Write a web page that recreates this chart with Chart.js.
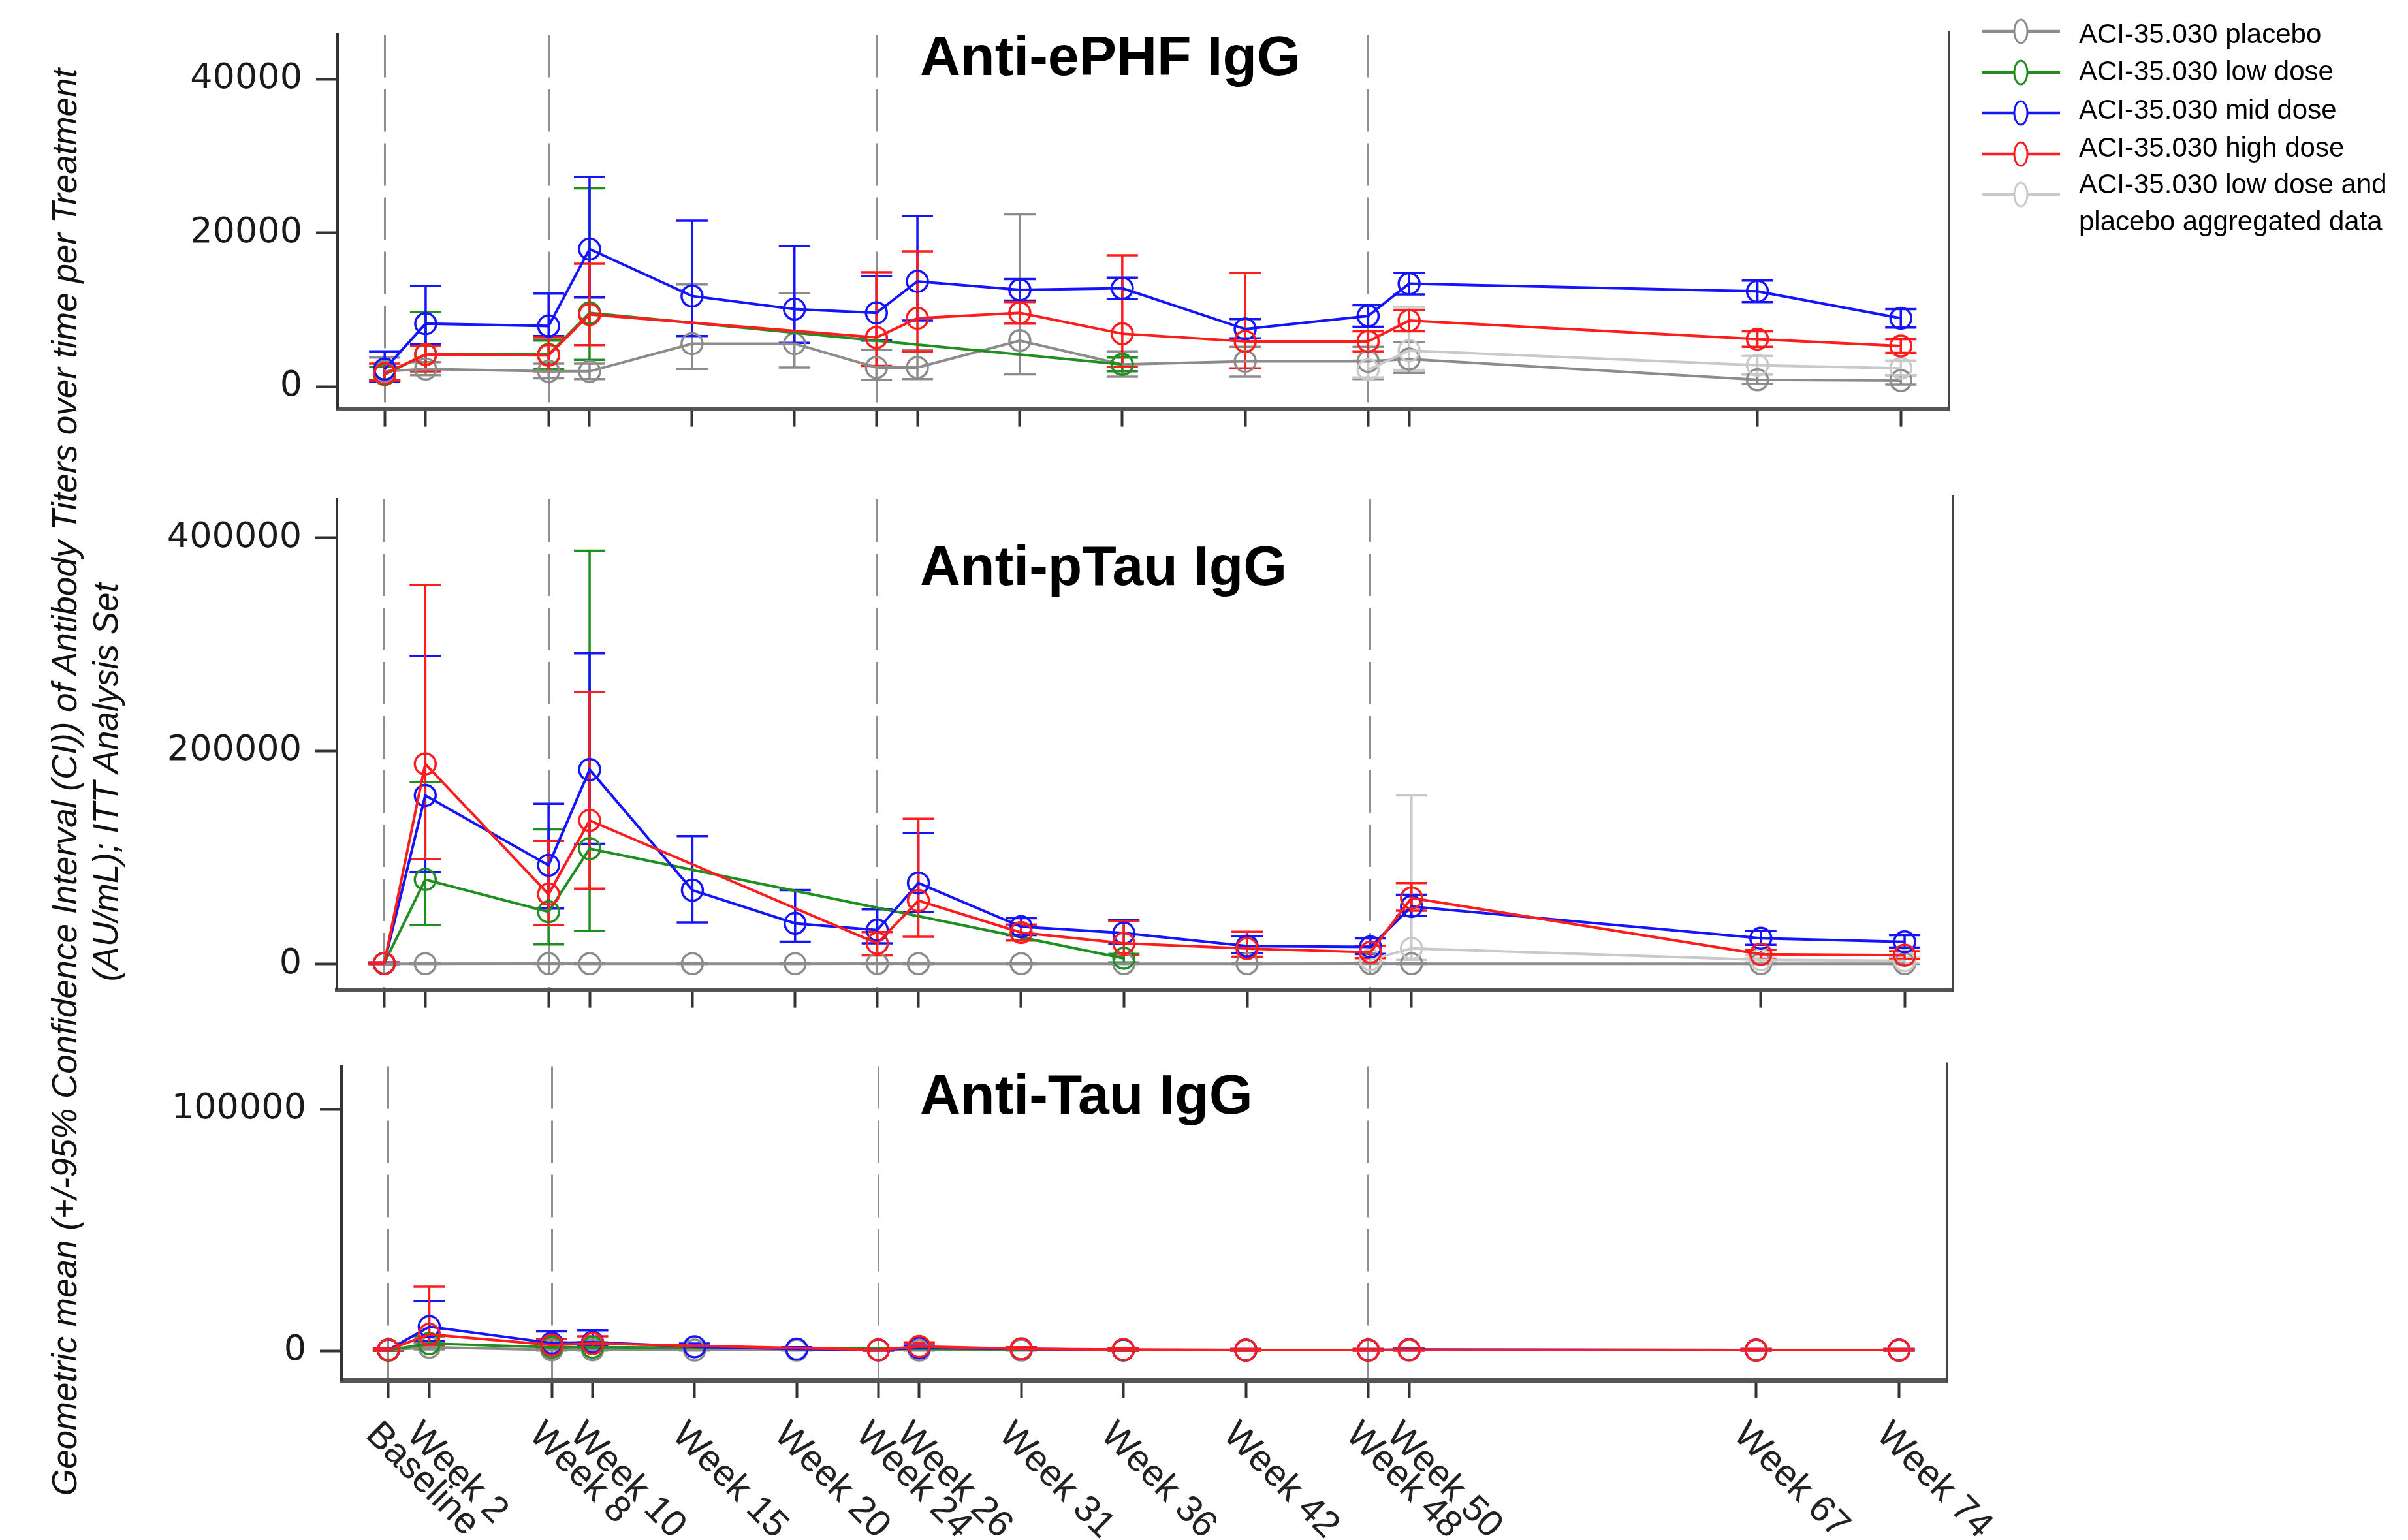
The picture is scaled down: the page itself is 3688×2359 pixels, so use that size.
<!DOCTYPE html>
<html>
<head>
<meta charset="utf-8">
<script src="https://cdn.jsdelivr.net/npm/chart.js@4.4.1/dist/chart.umd.min.js"></script>
<style>
  body { margin: 0; background: #fff; }
  #wrap { position: relative; width: 3688px; height: 2359px; overflow: hidden; background: #fff; }
  canvas { position: absolute; left: 0; }
  #ytitle {
    position: absolute; left: -1068px; top: 1133px; width: 2400px; height: 130px;
    transform: rotate(-90deg); text-align: center; color: #111;
    font: italic 53px "Liberation Sans", Arial, sans-serif; line-height: 63px; white-space: nowrap;
  }
</style>
</head>
<body>
<div id="wrap">
  <canvas id="ephf" width="3688" height="680" style="top:0px"></canvas>
  <canvas id="ptau" width="3688" height="880" style="top:690px"></canvas>
  <canvas id="tau" width="3688" height="779" style="top:1580px"></canvas>
  <div id="ytitle">Geometric mean (+/-95% Confidence Interval (CI)) of Antibody Titers over time per Treatment<br>(AU/mL); ITT Analysis Set</div>
</div>
<script>
// visit weeks (Baseline = week 0) and their labels
const weeks = [0, 2, 8, 10, 15, 20, 24, 26, 31, 36, 42, 48, 50, 67, 74];
const weekLabels = ['Baseline', 'Week 2', 'Week 8', 'Week 10', 'Week 15', 'Week 20', 'Week 24', 'Week 26',
  'Week 31', 'Week 36', 'Week 42', 'Week 48', 'Week 50', 'Week 67', 'Week 74'];
const dashedWeeks = [0, 8, 24, 48];

const seriesLabels = ['ACI-35.030 placebo', 'ACI-35.030 low dose', 'ACI-35.030 mid dose',
  'ACI-35.030 high dose', 'ACI-35.030 low dose and\nplacebo aggregated data'];
const seriesColors = ['#8c8c8c', '#1f8f1f', '#1414ff', '#ff1c1c', '#c9c9c9'];
const seriesOrder = [5, 3, 2, 1, 4];

// Anti-ePHF IgG
const ephfTicks = [0, 20000, 40000];
const ephfPlacebo   = [2000, 2300, 2000, 2000, 5600, 5600, 2500, 2500, 6000, 2900, 3300, 3300, 3600, 900, 800];
const ephfPlaceboLo = [900, 1500, 1100, 1000, 2300, 2500, 900, 1000, 1600, 1300, 1300, 1000, 1800, 400, 300];
const ephfPlaceboHi = [3800, 3200, 3000, 3000, 13300, 12200, 4800, 4800, 22400, 4600, 5200, 5200, 5800, 1600, 1500];
const ephfLow   = [1600, 4200, 4200, 9600, null, null, null, null, null, 2900, null, null, null, null, null];
const ephfLowLo = [900, 2000, 2300, 3500, null, null, null, null, null, 2000, null, null, null, null, null];
const ephfLowHi = [2600, 9700, 6000, 25800, null, null, null, null, null, 3800, null, null, null, null, null];
const ephfMid   = [2300, 8200, 7900, 17900, 11800, 10100, 9600, 13700, 12600, 12800, 7500, 9200, 13400, 12400, 8900];
const ephfMidLo = [600, 5500, 6600, 11600, 6600, 5700, 6000, 8600, 11200, 11400, 6300, 7800, 12000, 11000, 7700];
const ephfMidHi = [4600, 13100, 12100, 27300, 21600, 18300, 14400, 22200, 14000, 14200, 8800, 10600, 14800, 13800, 10100];
const ephfHigh   = [1700, 4200, 4100, 9400, null, null, 6400, 8900, 9600, 6900, 5900, 5900, 8600, 6200, 5300];
const ephfHighLo = [800, 2000, 2000, 5400, null, null, 2700, 4600, 8200, 2600, 2400, 4600, 7200, 5200, 4400];
const ephfHighHi = [3000, 5300, 6400, 16000, null, null, 14900, 17600, 11000, 17100, 14800, 7200, 10000, 7200, 6200];
const ephfAgg   = [null, null, null, null, null, null, null, null, null, null, null, 2200, 4700, 2800, 2400];
const ephfAggLo = [null, null, null, null, null, null, null, null, null, null, null, 1200, 2200, 1600, 1500];
const ephfAggHi = [null, null, null, null, null, null, null, null, null, null, null, 3400, 10400, 4000, 3400];

// Anti-pTau IgG
const ptauTicks = [0, 200000, 400000];
const ptauPlacebo   = [300, 300, 350, 300, 300, 300, 400, 300, 300, 300, 300, 400, 300, 300, 300];
const ptauPlaceboLo = [100, 100, 100, 100, 100, 100, 100, 100, 100, 100, 100, 100, 100, 100, 100];
const ptauPlaceboHi = [800, 900, 900, 800, 800, 800, 1200, 900, 800, 800, 800, 1200, 900, 800, 800];
const ptauLow   = [500, 79300, 49000, 108300, null, null, null, null, null, 5300, null, null, null, null, null];
const ptauLowLo = [100, 36500, 18400, 30900, null, null, null, null, null, 1500, null, null, null, null, null];
const ptauLowHi = [1200, 170600, 126300, 388000, null, null, null, null, null, 9500, null, null, null, null, null];
const ptauMid   = [600, 158200, 92700, 182500, 69300, 38100, 31800, 76000, 35000, 29000, 16800, 16000, 54000, 24200, 20800];
const ptauMidLo = [100, 86400, 52100, 112900, 39000, 20900, 19400, 49000, 27000, 19000, 10000, 9500, 45000, 18000, 15500];
const ptauMidHi = [1500, 289200, 150400, 291700, 120100, 69300, 51500, 122900, 43000, 41000, 26000, 24000, 65000, 31000, 27000];
const ptauHigh   = [500, 187800, 65500, 134800, null, null, 19400, 59500, 29500, 19400, 14500, 11000, 62000, 9100, 8200];
const ptauHighLo = [100, 98300, 36500, 70800, null, null, 8000, 25600, 22000, 8400, 6900, 5500, 50000, 5000, 4500];
const ptauHighHi = [1500, 355600, 115400, 255500, null, null, 30000, 136300, 37000, 40300, 30300, 17000, 76000, 13500, 12000];
const ptauAgg   = [null, null, null, null, null, null, null, null, null, null, null, 4000, 14700, 4000, 3000];
const ptauAggLo = [null, null, null, null, null, null, null, null, null, null, null, 1500, 4000, 1500, 1000];
const ptauAggHi = [null, null, null, null, null, null, null, null, null, null, null, 9000, 158200, 8000, 6000];

// Anti-Tau IgG
const tauTicks = [0, 100000];
const tauPlacebo   = [300, 1500, 400, 400, 300, 300, 300, 300, 300, 300, 300, 300, 300, 300, 300];
const tauPlaceboLo = [100, 600, 100, 100, 100, 100, 100, 100, 100, 100, 100, 100, 100, 100, 100];
const tauPlaceboHi = [700, 3000, 900, 900, 700, 700, 700, 700, 700, 700, 700, 700, 700, 700, 700];
const tauLow   = [300, 3000, 1500, 1500, null, null, null, null, null, 400, null, null, null, null, null];
const tauLowLo = [100, 1200, 600, 600, null, null, null, null, null, 100, null, null, null, null, null];
const tauLowHi = [700, 6000, 3500, 3500, null, null, null, null, null, 900, null, null, null, null, null];
const tauMid   = [400, 10000, 3200, 3600, 1700, 700, 400, 1200, 800, 400, 300, 300, 500, 300, 300];
const tauMidLo = [100, 4000, 1500, 1800, 800, 300, 100, 500, 300, 100, 100, 100, 200, 100, 100];
const tauMidHi = [900, 20500, 8000, 8500, 3000, 1500, 900, 2200, 1500, 900, 700, 700, 1000, 700, 700];
const tauHigh   = [400, 6800, 2400, 3000, null, null, 400, 1800, 800, 500, 300, 300, 400, 300, 300];
const tauHighLo = [100, 2000, 1200, 1500, null, null, 100, 800, 300, 100, 100, 100, 100, 100, 100];
const tauHighHi = [900, 26500, 5000, 6000, null, null, 900, 3500, 1500, 1000, 700, 700, 900, 700, 700];
const tauAgg   = [null, null, null, null, null, null, null, null, null, null, null, 300, 400, 300, 300];
const tauAggLo = [null, null, null, null, null, null, null, null, null, null, null, 100, 100, 100, 100];
const tauAggHi = [null, null, null, null, null, null, null, null, null, null, null, 700, 900, 700, 700];

const panelTitles = ['Anti-ePHF IgG', 'Anti-pTau IgG', 'Anti-Tau IgG'];

// error bars, right frame, panel title, legend and slanted week labels
const extras = {
  id: 'extras',
  beforeDatasetsDraw(chart) {
    const {ctx, scales} = chart;
    const sorted = chart.data.datasets.slice().sort((a, b) => b.order - a.order);
    sorted.forEach(ds => {
      ctx.save();
      ctx.strokeStyle = ds.borderColor;
      ctx.lineWidth = 3.5;
      ctx.beginPath();
      weeks.forEach((w, j) => {
        const lo = ds.ciLow[j], hi = ds.ciHigh[j];
        if (lo == null || hi == null) return;
        const px = scales.x.getPixelForValue(w);
        const p1 = scales.y.getPixelForValue(lo), p2 = scales.y.getPixelForValue(hi);
        ctx.moveTo(px, p1); ctx.lineTo(px, p2);
        ctx.moveTo(px - 24, p1); ctx.lineTo(px + 24, p1);
        ctx.moveTo(px - 24, p2); ctx.lineTo(px + 24, p2);
      });
      ctx.stroke();
      ctx.restore();
    });
  },
  afterDraw(chart, args, opts) {
    const {ctx, chartArea} = chart;
    ctx.save();
    ctx.strokeStyle = '#444';
    ctx.lineWidth = 4;
    ctx.beginPath();
    ctx.moveTo(chartArea.right, chartArea.top - 6);
    ctx.lineTo(chartArea.right, chartArea.bottom + 3);
    ctx.stroke();

    ctx.fillStyle = '#000';
    ctx.font = 'bold 86px "Liberation Sans", Arial, sans-serif';
    ctx.textAlign = 'left';
    ctx.textBaseline = 'alphabetic';
    ctx.fillText(opts.title, 1409, opts.titleY);

    if (opts.showLegend) {
      const markY = [48, 111, 173, 236, 298];
      const textY = [[66], [123], [182], [240], [296, 353]];
      ctx.font = '42px "Liberation Sans", Arial, sans-serif';
      chart.data.datasets.forEach((ds, k) => {
        const y = markY[k];
        ctx.strokeStyle = ds.borderColor;
        ctx.lineWidth = 4.5;
        ctx.beginPath(); ctx.moveTo(3035, y); ctx.lineTo(3155, y); ctx.stroke();
        ctx.lineWidth = 3;
        ctx.fillStyle = '#fff';
        ctx.beginPath(); ctx.ellipse(3095, y, 10, 18, 0, 0, Math.PI * 2); ctx.fill(); ctx.stroke();
        ctx.fillStyle = '#000';
        ds.label.split('\n').forEach((t, n) => ctx.fillText(t, 3184, textY[k][n]));
      });
    }

    if (opts.showWeekLabels) {
      const xs = chart.scales.x;
      ctx.fillStyle = '#222';
      ctx.font = '57px "Liberation Sans", Arial, sans-serif';
      weeks.forEach((w, i) => {
        ctx.save();
        ctx.translate(xs.getPixelForValue(w) - 8, opts.labelTop);
        ctx.rotate(Math.PI / 4);
        ctx.fillText(weekLabels[i], 0, 41);
        ctx.restore();
      });
    }
    ctx.restore();
  }
};
Chart.register(extras);

function buildDatasets(vals, los, his) {
  return seriesLabels.map((label, k) => ({
    label: label,
    data: weeks.map((w, i) => ({x: w, y: vals[k][i]})),
    ciLow: los[k],
    ciHigh: his[k],
    borderColor: seriesColors[k],
    backgroundColor: 'rgba(0,0,0,0)',
    borderWidth: 4,
    pointStyle: 'circle',
    pointRadius: 16,
    pointHoverRadius: 16,
    pointBorderWidth: 3.5,
    pointBorderColor: seriesColors[k],
    pointBackgroundColor: 'rgba(0,0,0,0)',
    spanGaps: true,
    tension: 0,
    order: seriesOrder[k]
  }));
}

function makePanel(canvasId, datasets, lay) {
  return new Chart(document.getElementById(canvasId), {
    type: 'line',
    data: {datasets: datasets},
    options: {
      responsive: false,
      animation: false,
      events: [],
      layout: {padding: {top: lay.padTop, right: lay.padRight, left: 0, bottom: 0}},
      plugins: {
        legend: {display: false},
        tooltip: {enabled: false},
        extras: lay.extras
      },
      scales: {
        x: {
          type: 'linear',
          min: -2.3,
          max: 76.35,
          afterBuildTicks: s => { s.ticks = weeks.map(v => ({value: v})); },
          afterFit: s => { s.height = lay.xHeight; },
          ticks: {display: false},
          grid: {
            color: c => (c.tick && dashedWeeks.includes(c.tick.value)) ? '#8f8f8f' : 'rgba(0,0,0,0)',
            lineWidth: 3,
            drawTicks: true,
            tickLength: 27,
            tickColor: '#333',
            tickWidth: 4
          },
          border: {color: '#555', width: 7, dash: [65, 18]}
        },
        y: {
          min: lay.yMin,
          max: lay.yMax,
          afterBuildTicks: s => { s.ticks = lay.yTicks.map(v => ({value: v})); },
          afterFit: s => { s.width = lay.yWidth; },
          ticks: {
            color: '#1a1a1a',
            padding: 21,
            font: {family: '"DejaVu Sans", Verdana, sans-serif', size: 54},
            callback: v => String(v)
          },
          grid: {drawOnChartArea: false, drawTicks: true, tickLength: 33, tickColor: '#333', tickWidth: 4},
          border: {color: '#333', width: 4}
        }
      }
    }
  });
}

makePanel('ephf',
  buildDatasets([ephfPlacebo, ephfLow, ephfMid, ephfHigh, ephfAgg],
                [ephfPlaceboLo, ephfLowLo, ephfMidLo, ephfHighLo, ephfAggLo],
                [ephfPlaceboHi, ephfLowHi, ephfMidHi, ephfHighHi, ephfAggHi]),
  {padTop: 31, padRight: 3688 - 2985, xHeight: 53, yWidth: 517, yMin: -2900, yMax: 45750, yTicks: ephfTicks,
   extras: {title: panelTitles[0], titleY: 115, showLegend: true, showWeekLabels: false}});

makePanel('ptau',
  buildDatasets([ptauPlacebo, ptauLow, ptauMid, ptauHigh, ptauAgg],
                [ptauPlaceboLo, ptauLowLo, ptauMidLo, ptauHighLo, ptauAggLo],
                [ptauPlaceboHi, ptauLowHi, ptauMidHi, ptauHighHi, ptauAggHi]),
  {padTop: 75, padRight: 3688 - 2991, xHeight: 52, yWidth: 516, yMin: -24465, yMax: 436090, yTicks: ptauTicks,
   extras: {title: panelTitles[1], titleY: 206, showLegend: false, showWeekLabels: false}});

makePanel('tau',
  buildDatasets([tauPlacebo, tauLow, tauMid, tauHigh, tauAgg],
                [tauPlaceboLo, tauLowLo, tauMidLo, tauHighLo, tauAggLo],
                [tauPlaceboHi, tauLowHi, tauMidHi, tauHighHi, tauAggHi]),
  {padTop: 51, padRight: 3688 - 2982, xHeight: 245, yWidth: 523, yMin: -12100, yMax: 117740, yTicks: tauTicks,
   extras: {title: panelTitles[2], titleY: 126, showLegend: false, showWeekLabels: true, labelTop: 591}});
</script>
</body>
</html>
